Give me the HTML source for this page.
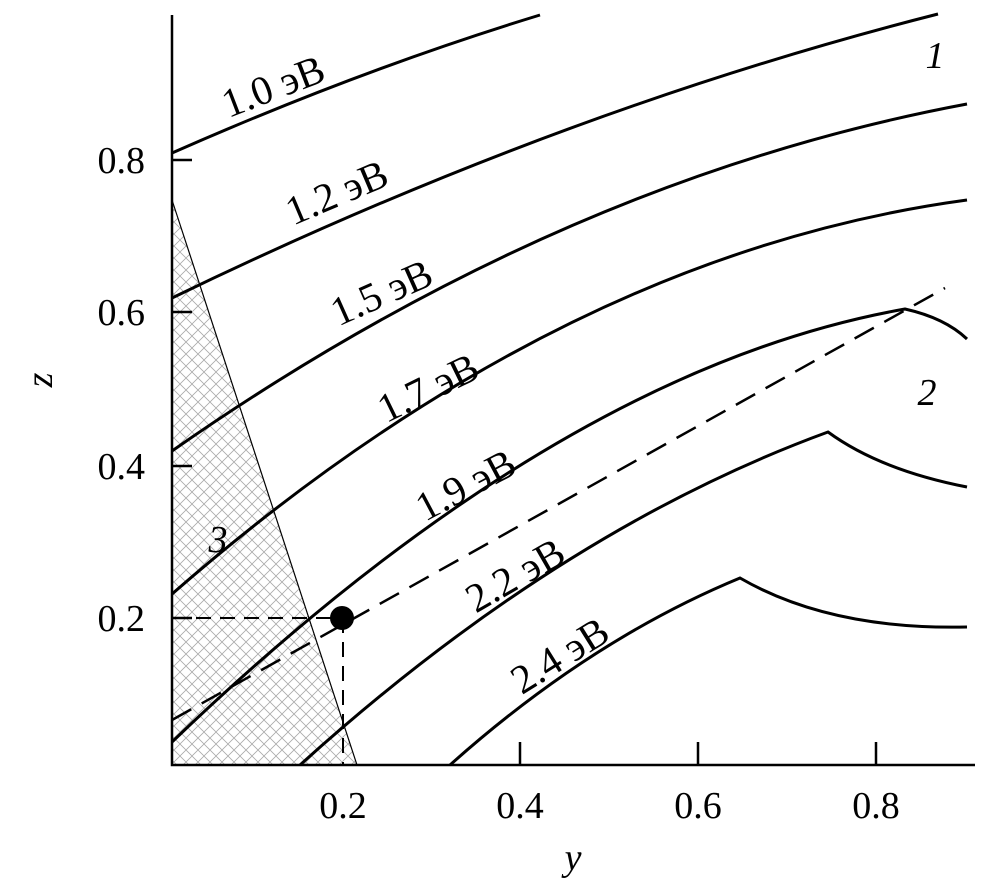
<!DOCTYPE html>
<html><head><meta charset="utf-8"><style>body{margin:0;background:#fff} text{font-family:"Liberation Serif",serif}</style></head><body>
<svg width="1004" height="883" viewBox="0 0 1004 883" xmlns="http://www.w3.org/2000/svg">
<defs>
<pattern id="h" width="12" height="12" patternUnits="userSpaceOnUse">
<path d="M0,0L12,12M12,0L0,12" stroke="#aaa" stroke-width="0.8"/>
</pattern>
</defs>
<polygon points="172,200 357,765 172,765" fill="url(#h)"/>
<line x1="172" y1="200" x2="357" y2="765" stroke="#000" stroke-width="1.2"/>
<g fill="none" stroke="#000" stroke-width="3">
<path d="M172,153 Q360,70 540,15"/>
<path d="M172,298 Q560,110 938,14"/>
<path d="M172,451 Q560,180 967,104"/>
<path d="M172,594 Q560,255 967,200"/>
<path d="M172,742 Q560,370 905,309 Q945,318 967,339"/>
<path d="M300,765 Q560,530 828,432 Q880,470 967,487"/>
<path d="M450,765 Q590,640 740,578 Q830,630 967,627"/>
</g>
<path d="M172,720 L945,288" stroke="#000" stroke-width="2.5" stroke-dasharray="22,12" fill="none"/>
<path d="M172,618 L343,618 M343,618 L343,765" stroke="#000" stroke-width="2" stroke-dasharray="15,9" fill="none"/>
<circle cx="342" cy="618" r="12" fill="#000"/>
<g stroke="#000" stroke-width="2.5" fill="none">
<path d="M172,15 V765 H975"/>
<path d="M172,160 h20 M172,312 h20 M172,466 h20 M172,618 h20"/>
<path d="M520,765 v-23 M698,765 v-23 M876,765 v-23"/>
</g>
<g font-size="38" text-anchor="middle">
<text x="343" y="818">0.2</text><text x="520" y="818">0.4</text><text x="698" y="818">0.6</text><text x="876" y="818">0.8</text>
</g>
<g font-size="38" text-anchor="end">
<text x="145" y="173">0.8</text><text x="145" y="325">0.6</text><text x="145" y="479">0.4</text><text x="145" y="631">0.2</text>
</g>
<text x="573" y="870" font-size="38" font-style="italic" text-anchor="middle">y</text>
<text transform="translate(52,380) rotate(-90)" font-size="38" font-style="italic" text-anchor="middle">z</text>
<g font-size="38" font-style="italic" text-anchor="middle">
<text x="935" y="68">1</text><text x="927" y="405">2</text><text x="218" y="552">3</text>
</g>
<g font-size="41" text-anchor="middle">
<text transform="translate(278,99) rotate(-21)">1.0 эВ</text>
<text transform="translate(342,205) rotate(-23)">1.2 эВ</text>
<text transform="translate(387,305) rotate(-24)">1.5 эВ</text>
<text transform="translate(434,400) rotate(-26)">1.7 эВ</text>
<text transform="translate(472,497) rotate(-28)">1.9 эВ</text>
<text transform="translate(522,587) rotate(-30)">2.2 эВ</text>
<text transform="translate(567,667) rotate(-32)">2.4 эВ</text>
</g>
</svg>
</body></html>
